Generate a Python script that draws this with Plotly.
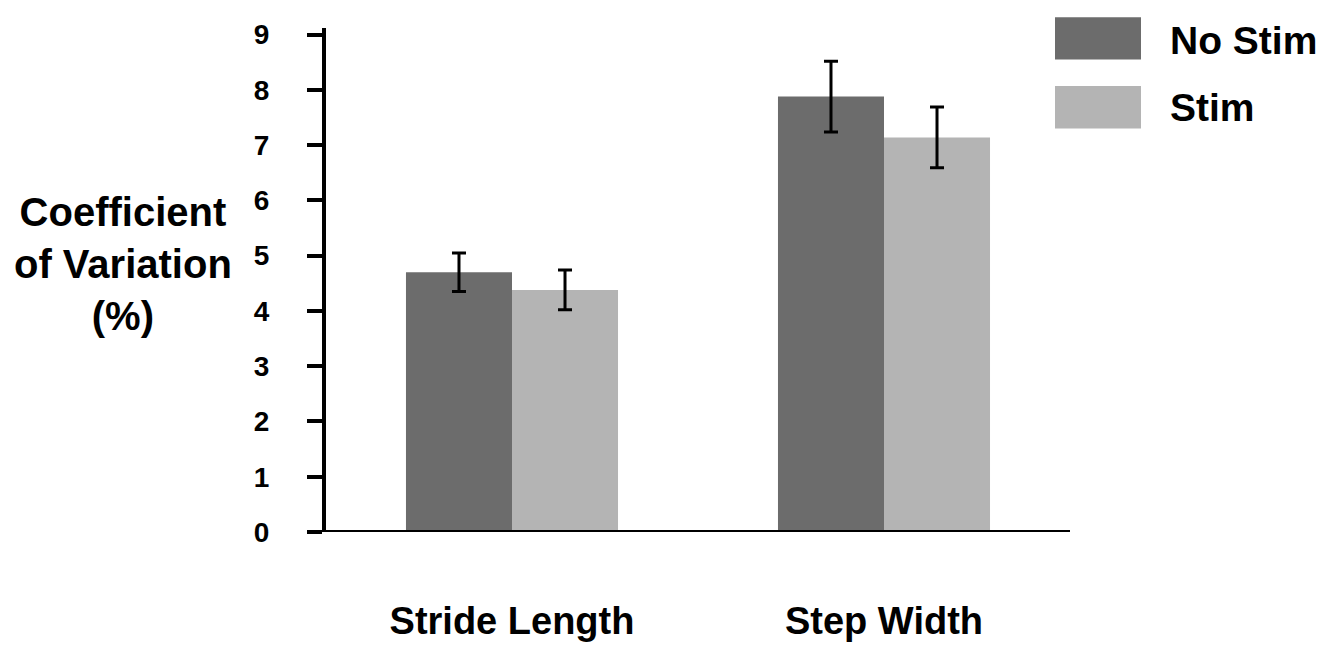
import plotly.graph_objects as go

categories = ["Stride Length", "Step Width"]
no_stim = [4.70, 7.88]
no_stim_err = [0.35, 0.64]
stim = [4.38, 7.14]
stim_err = [0.36, 0.55]
series_names = ["No Stim", "Stim"]
y_ticks = [0, 1, 2, 3, 4, 5, 6, 7, 8, 9]
y_title = "Coefficient<br>of Variation<br>(%)"

COL_DARK = "#6c6c6c"
COL_LIGHT = "#b4b4b4"
FONT = "Liberation Sans, Arial, sans-serif"

fig = go.Figure()
fig.add_trace(go.Bar(
    x=categories, y=no_stim, name=series_names[0], marker_color=COL_DARK,
    marker_line_width=0,
    error_y=dict(type="data", array=no_stim_err, color="black", thickness=3, width=7),
))
fig.add_trace(go.Bar(
    x=categories, y=stim, name=series_names[1], marker_color=COL_LIGHT,
    marker_line_width=0,
    error_y=dict(type="data", array=stim_err, color="black", thickness=3, width=7),
))

# page body has an 8px margin; figure occupies 8..1343 x 8..654
OFF = 8
W, H = 1343 - OFF, 654 - OFF
L, R, T, B = 326 - OFF, 273, 22 - OFF, 120
pw, ph = W - L - R, H - T - B

def px_x(v):
    return (v - OFF - L) / pw

def px_y(v):
    return (H + OFF - B - v) / ph

fig.update_layout(
    width=W, height=H,
    margin=dict(l=L, r=R, t=T, b=B, pad=0),
    paper_bgcolor="white", plot_bgcolor="white",
    barmode="group", bargap=0.43, bargroupgap=0,
    showlegend=False,
    font=dict(family=FONT, color="black"),
    xaxis=dict(
        type="category", range=[-0.5, 1.5],
        showline=False, ticks="", showgrid=False, zeroline=False,
        tickfont=dict(size=38, family=FONT, weight="bold", color="black"),
        ticklabelstandoff=63,
    ),
    yaxis=dict(
        range=[0, 9.12], tickvals=y_ticks, ticktext=[str(t) for t in y_ticks],
        showline=True, linewidth=4, linecolor="black",
        ticks="outside", ticklen=15, tickwidth=4, tickcolor="black",
        showgrid=False, zeroline=False,
        tickfont=dict(size=28, family=FONT, weight="bold", color="black"),
        ticklabelstandoff=32,
    ),
)

# x axis baseline
fig.add_shape(type="line", xref="paper", yref="y", x0=0, x1=1, y0=0, y1=0,
              line=dict(color="black", width=4))

# y-axis title (horizontal, three lines)
fig.add_annotation(
    text=y_title, xref="paper", yref="paper",
    x=px_x(123), y=px_y(262), xanchor="center", yanchor="middle",
    showarrow=False, align="center",
    font=dict(size=40, family=FONT, weight="bold", color="black"),
)

# custom legend
legend_items = [(series_names[0], COL_DARK, 11, 54, 35), (series_names[1], COL_LIGHT, 81, 124, 103)]
for name, col, top, bot, mid in legend_items:
    fig.add_shape(type="rect", xref="paper", yref="paper",
                  x0=px_x(1055), x1=px_x(1141), y0=px_y(bot), y1=px_y(top),
                  fillcolor=col, line=dict(width=0))
    fig.add_annotation(text=name, xref="paper", yref="paper",
                       x=px_x(1168), y=px_y(mid), xanchor="left", yanchor="middle",
                       showarrow=False,
                       font=dict(size=39, family=FONT, weight="bold", color="black"))

fig.write_html("out.html")
